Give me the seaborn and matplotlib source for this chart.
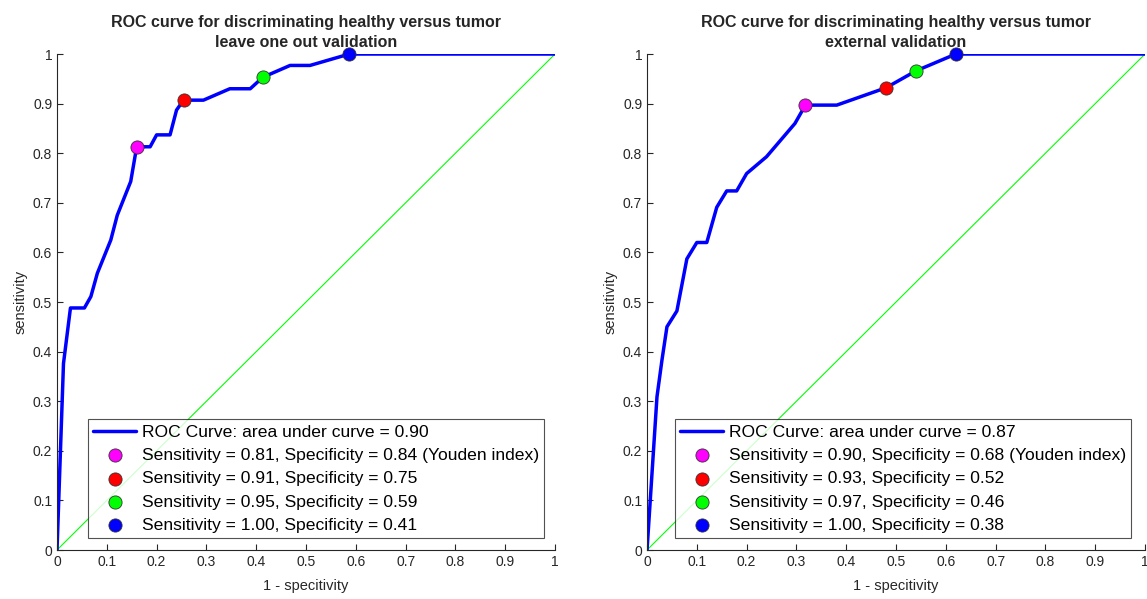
import matplotlib
matplotlib.use("Agg")
import matplotlib.pyplot as plt
import seaborn as sns
import pandas as pd

# leave-one-out ROC curve (1 - specificity, sensitivity)
loo_fpr = [0, 0.013, 0.027, 0.055, 0.068, 0.081, 0.108, 0.121, 0.148, 0.160, 0.187,
           0.200, 0.227, 0.240, 0.254, 0.294, 0.347, 0.388, 0.413, 0.468, 0.508,
           0.587, 1.0]
loo_tpr = [0, 0.376, 0.488, 0.488, 0.511, 0.558, 0.625, 0.675, 0.743, 0.813, 0.813,
           0.837, 0.837, 0.887, 0.907, 0.907, 0.930, 0.930, 0.953, 0.977, 0.977,
           1.0, 1.0]
loo_pts_fpr = [0.16, 0.254, 0.413, 0.587]
loo_pts_tpr = [0.813, 0.907, 0.953, 1.0]
loo_auc = 0.90
loo_sens = [0.81, 0.91, 0.95, 1.00]
loo_spec = [0.84, 0.75, 0.59, 0.41]

# external validation ROC curve
ext_fpr = [0, 0.020, 0.030, 0.040, 0.060, 0.080, 0.100, 0.120, 0.140, 0.160, 0.180,
           0.200, 0.240, 0.297, 0.318, 0.381, 0.480, 0.540, 0.620, 1.0]
ext_tpr = [0, 0.309, 0.383, 0.450, 0.482, 0.587, 0.620, 0.620, 0.691, 0.724, 0.724,
           0.759, 0.793, 0.860, 0.897, 0.897, 0.932, 0.966, 1.0, 1.0]
ext_pts_fpr = [0.318, 0.480, 0.540, 0.620]
ext_pts_tpr = [0.897, 0.932, 0.966, 1.0]
ext_auc = 0.87
ext_sens = [0.90, 0.93, 0.97, 1.00]
ext_spec = [0.68, 0.52, 0.46, 0.38]

point_colors = ["#ff00ff", "#ff0000", "#00ff00", "#0000ff"]

sns.set_style("ticks")
plt.rcParams["font.family"] = ["Liberation Sans", "DejaVu Sans"]
plt.rcParams["xtick.direction"] = "in"
plt.rcParams["ytick.direction"] = "in"

fig = plt.figure(figsize=(11.47, 5.99), dpi=100)
ax1 = fig.add_axes([0.0497, 0.0818, 0.4342, 0.828])
ax2 = fig.add_axes([0.5641, 0.0818, 0.4342, 0.828])


def draw(ax, fpr, tpr, pfpr, ptpr, auc, sens, spec, subtitle, anchor):
    diag = pd.DataFrame({"x": [0, 1], "y": [0, 1]})
    sns.lineplot(data=diag, x="x", y="y", ax=ax, color="#00ff00", lw=0.8)
    roc = pd.DataFrame({"fpr": fpr, "tpr": tpr})
    sns.lineplot(data=roc, x="fpr", y="tpr", ax=ax, sort=False, estimator=None,
                 color="#0000ff", lw=2.5,
                 label="ROC Curve: area under curve = %.2f" % auc)
    for i in range(len(pfpr)):
        lab = "Sensitivity = %.2f, Specificity = %.2f" % (sens[i], spec[i])
        if i == 0:
            lab += " (Youden index)"
        sns.scatterplot(x=[pfpr[i]], y=[ptpr[i]], ax=ax, color=point_colors[i],
                        s=90, edgecolor="#333333", linewidth=0.6, zorder=5,
                        clip_on=False, label=lab)
    ax.set_xlim(0, 1)
    ax.set_ylim(0, 1)
    ticks = [i / 10 for i in range(11)]
    labels = ["0", "0.1", "0.2", "0.3", "0.4", "0.5", "0.6", "0.7", "0.8", "0.9", "1"]
    ax.set_xticks(ticks)
    ax.set_yticks(ticks)
    ax.set_xticklabels(labels)
    ax.set_yticklabels(labels)
    ax.tick_params(labelsize=10, colors="#262626", length=4, width=0.8)
    for s in ["left", "bottom"]:
        ax.spines[s].set_color("#262626")
        ax.spines[s].set_linewidth(0.8)
    sns.despine(ax=ax)
    ax.set_xlabel("1 - specitivity", fontsize=10.5, color="#262626", labelpad=7)
    ax.set_ylabel("sensitivity", fontsize=10.5, color="#262626")
    ax.set_title("ROC curve for discriminating healthy versus tumor\n" + subtitle,
                 fontsize=11.5, fontweight="bold", linespacing=1.45, pad=5)
    leg = ax.legend(loc="lower right", bbox_to_anchor=anchor, fontsize=12.6,
                    frameon=True, fancybox=False, edgecolor="#262626",
                    handlelength=2.45, labelspacing=0.46, borderpad=0.3,
                    borderaxespad=0, handletextpad=0.3, markerscale=1.0)
    leg.get_frame().set_linewidth(0.8)
    for t in leg.get_texts():
        t.set_color("#000000")


draw(ax1, loo_fpr, loo_tpr, loo_pts_fpr, loo_pts_tpr, loo_auc, loo_sens, loo_spec,
     "leave one out validation", (0.978, 0.024))
draw(ax2, ext_fpr, ext_tpr, ext_pts_fpr, ext_pts_tpr, ext_auc, ext_sens, ext_spec,
     "external validation", (0.972, 0.024))

fig.savefig("out.png", dpi=100)
